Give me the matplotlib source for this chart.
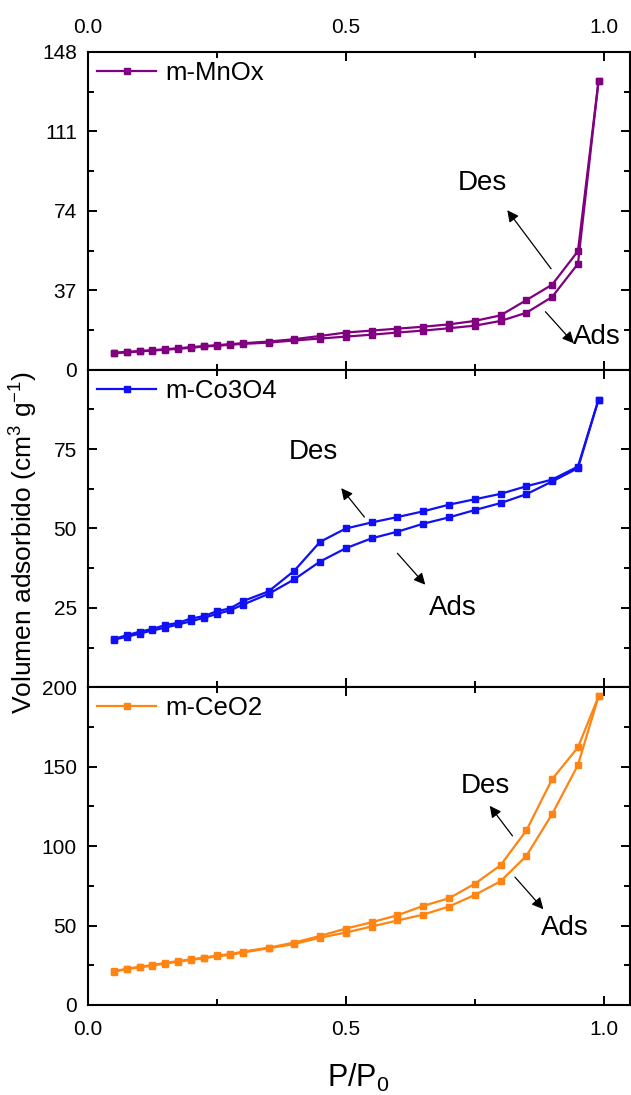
import matplotlib
matplotlib.use("Agg")
import matplotlib.pyplot as plt
from matplotlib.ticker import MultipleLocator, FixedLocator

plt.rcParams['font.family'] = ['Liberation Sans', 'DejaVu Sans']
plt.rcParams['mathtext.fontset'] = 'custom'
plt.rcParams['mathtext.rm'] = 'Liberation Sans'
plt.rcParams['mathtext.it'] = 'Liberation Sans'
plt.rcParams['mathtext.bf'] = 'Liberation Sans'

# relative pressure grid (adsorption and desorption share it)
p = [0.05, 0.075, 0.1, 0.125, 0.15, 0.175, 0.2, 0.225, 0.25, 0.275, 0.3,
     0.35, 0.4, 0.45, 0.5, 0.55, 0.6, 0.65, 0.7, 0.75, 0.8, 0.85, 0.9, 0.95, 0.99]

mn_ads = [7.7, 8.0, 8.5, 8.9, 9.3, 9.7, 10.2, 10.8, 11.1, 11.6, 12.0,
          12.6, 13.6, 14.5, 15.4, 16.3, 17.3, 18.2, 19.3, 20.5, 22.7, 26.5, 33.9, 49.3, 134.6]
mn_des = [7.9, 8.3, 8.7, 9.1, 9.5, 10.0, 10.5, 11.0, 11.4, 11.9, 12.3,
          13.1, 14.2, 15.7, 17.3, 18.2, 19.1, 20.0, 21.1, 22.7, 25.3, 32.4, 39.6, 55.2, 134.6]

co_ads = [15.0, 15.9, 16.9, 17.9, 18.8, 19.8, 20.8, 21.9, 23.1, 24.2, 26.0,
          29.4, 34.0, 39.6, 43.8, 46.9, 49.0, 51.5, 53.5, 55.8, 58.0, 60.8, 64.8, 69.0, 90.6]
co_des = [15.2, 16.4, 17.5, 18.4, 19.6, 20.3, 21.7, 22.4, 24.0, 24.8, 27.1,
          30.2, 36.7, 45.8, 50.0, 51.9, 53.6, 55.4, 57.5, 59.2, 60.9, 63.3, 65.4, 69.5, 90.6]

ce_ads = [21.0, 22.5, 23.7, 24.8, 26.1, 27.3, 28.4, 29.4, 30.7, 31.5, 33.0,
          35.7, 38.4, 42.4, 45.6, 49.4, 53.2, 56.9, 62.0, 69.3, 77.9, 93.9, 120.2, 151.1, 194.3]
ce_des = [21.3, 22.8, 24.1, 25.2, 26.5, 27.7, 28.8, 29.8, 31.2, 32.0, 33.6,
          36.1, 39.3, 43.5, 48.1, 52.1, 56.5, 62.4, 67.2, 76.3, 88.0, 109.9, 142.2, 162.2, 194.3]

labels = ['m-MnOx', 'm-Co3O4', 'm-CeO2']
colors = ['#800080', '#1010F4', '#FF8412']
ylims = [(0, 148), (0, 100), (0, 200)]
yticks = [[0, 37, 74, 111, 148], [25, 50, 75], [0, 50, 100, 150, 200]]
yminor = [18.5, 12.5, 25]

# annotation positions: (text xy, arrow tail, arrow head)
des_notes = [((0.764, 87), (0.898, 47), (0.813, 74.3)),
             ((0.437, 74), (0.536, 53.6), (0.491, 62.7)),
             ((0.771, 138), (0.823, 106.5), (0.779, 125.4))]
ads_notes = [((0.986, 15.4), (0.887, 27), (0.942, 12.3)),
             ((0.708, 25), (0.600, 42.2), (0.654, 32.3)),
             ((0.925, 48.3), (0.828, 80.5), (0.883, 60.3))]

fig = plt.figure(figsize=(6.31, 10.95), dpi=100)
left, width = 88 / 631, 541.5 / 631
h = 317.67 / 1095
b0 = 90 / 1095
axes = [fig.add_axes([left, b0 + (2 - i) * h, width, h]) for i in range(3)]

series = [(mn_ads, mn_des), (co_ads, co_des), (ce_ads, ce_des)]

for i, ax in enumerate(axes):
    ads, des = series[i]
    ax.plot(p, ads, '-s', color=colors[i], lw=1.6, ms=5, label=labels[i])
    ax.plot(p, des, '-s', color=colors[i], lw=1.6, ms=5)
    ax.set_xlim(0, 1.05)
    ax.set_ylim(*ylims[i])
    ax.xaxis.set_major_locator(MultipleLocator(0.5))
    ax.xaxis.set_minor_locator(MultipleLocator(0.25))
    ax.yaxis.set_major_locator(FixedLocator(yticks[i]))
    ax.yaxis.set_minor_locator(MultipleLocator(yminor[i]))
    ax.tick_params(which='both', direction='in', top=True, right=True, width=1.4)
    ax.tick_params(which='major', length=6.5)
    ax.tick_params(which='minor', length=4)
    ax.tick_params(axis='y', labelsize=15, pad=8)
    ax.tick_params(axis='x', labelsize=15, pad=11)
    ax.xaxis.set_major_formatter(plt.FormatStrFormatter('%.1f'))
    for s in ax.spines.values():
        s.set_linewidth(1.5)
    if i == 0:
        ax.tick_params(axis='x', labeltop=True, labelbottom=False)
    elif i == 1:
        ax.tick_params(axis='x', labelbottom=False)

    ax.legend(loc='upper left', frameon=False, fontsize=18.5,
              handlelength=2.3, handletextpad=0.35,
              borderaxespad=0.15, borderpad=0.2)

    arrow = dict(arrowstyle='-|>', color='black', lw=0.9,
                 mutation_scale=17, shrinkA=0, shrinkB=0)
    t, tail, head = des_notes[i]
    ax.text(t[0], t[1], 'Des', fontsize=20, ha='center', va='center')
    ax.annotate('', xy=head, xytext=tail, arrowprops=arrow)
    t, tail, head = ads_notes[i]
    ax.text(t[0], t[1], 'Ads', fontsize=20, ha='center', va='center')
    ax.annotate('', xy=head, xytext=tail, arrowprops=arrow)

fig.text(24 / 631, 1 - 543 / 1095, r'Volumen adsorbido (cm$^{3}$ g$^{-1}$)',
         rotation=90, ha='center', va='center', fontsize=19)
fig.text(358 / 631, 1 - 1078 / 1095, r'P/P$_0$', ha='center', va='center',
         fontsize=22)

fig.savefig('out.png', dpi=100)
